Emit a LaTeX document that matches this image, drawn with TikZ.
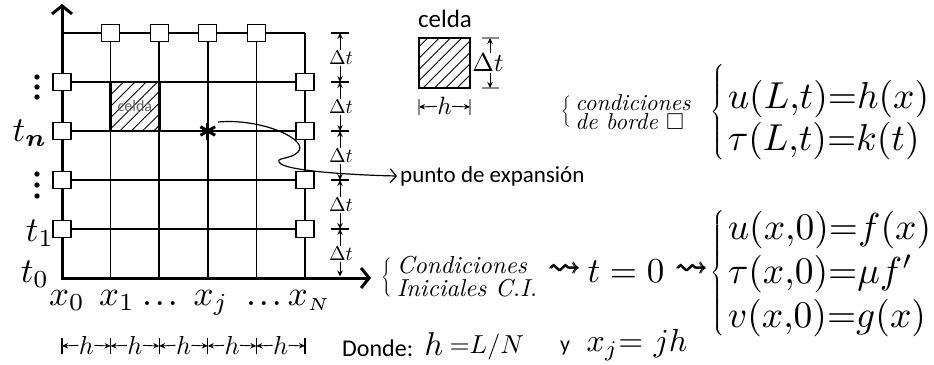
\documentclass[tikz,border=0pt]{standalone}
\usepackage{amsmath}
\usepackage{amssymb}
\usepackage{fontspec}
\newfontfamily\carlito{Carlito}
\usetikzlibrary{arrows.meta,patterns.meta,calc}
\newcommand{\sz}[2]{\fontsize{#1}{#2}\selectfont}
\newcommand{\tallbrace}[1]{$\left\{\vcenter{\hrule height #1pt width 0pt}\right.$}

\begin{document}
\begin{tikzpicture}[x=1pt,y=-1pt,
  grd/.style={line width=1.7pt},
  axis/.style={line width=3pt,-{Straight Barb[length=8pt,width=20pt]}},
  bnd/.style={draw,fill=white,line width=1.1pt,minimum width=18pt,minimum height=17pt,inner sep=0pt},
  hatch/.style={pattern={Lines[angle=45,distance=8pt,line width=0.9pt]}},
  dim/.style={line width=0.9pt,-{Stealth[length=6pt,width=5.5pt]}},
  tick/.style={line width=1.1pt},
  lbl/.style={inner sep=0pt},
  m/.style={inner sep=0pt,scale=#1},
  conn/.style={line width=1.2pt,-{Straight Barb[length=6pt,width=14pt]}}]

\useasboundingbox (0,0) rectangle (934,364);
\def\hx{48.6}\def\ty{49}

% ================= mesh =================
\foreach \k in {0,...,4} \draw[grd] (62,{33+\ty*\k}) -- (305,{33+\ty*\k});
\foreach \k in {1,...,5} \draw[grd] ({62+\hx*\k},33) -- ({62+\hx*\k},278);
% the shaded cell
\draw[line width=2.6pt,hatch] ({62+\hx},82) rectangle ({62+2*\hx},131);
\node[lbl,text=black!60,font=\carlito\sz{16}{16}] (cl) at ({62+1.5*\hx},106) {celda};
% axes
\draw[axis] (62,279.5) -- (62,4);
\draw[axis] (60.5,278) -- (371,278);
% boundary nodes
\foreach \k in {1,...,4} {
  \node[bnd] (top\k) at ({62+\hx*\k},33) {};
  \node[bnd] (lft\k) at (62,{33+\ty*\k}) {};
  \node[bnd] (rgt\k) at (305,{33+\ty*\k}) {};
}

% ================= axis labels =================
\foreach \y in {77,87,97,174,185,196} \fill (37,\y) circle (2.7);
\node[m=3.5] (tn) at (30,133) {$t_{\boldsymbol{n}}$};
\node[m=3.5] (t1) at (40,233) {$t_1$};
\node[m=3.5] (t0) at (35,274) {$t_0$};
\node[m=3.5,anchor=base] (x0) at (67,305) {$x_0$};
\node[m=3.5,anchor=base] (x1) at (117,305) {$x_1$};
\node[m=2.5,anchor=base] (e1) at (160,305) {$\boldsymbol{\ldots}$};
\node[m=3.5,anchor=base] (xj) at (211,305) {$x_j$};
\node[m=2.5,anchor=base] (e2) at (264,305) {$\boldsymbol{\ldots}$};
\node[m=3.5,anchor=base] (xN) at (309,305) {$x_{\scriptscriptstyle N}$};

% ================= spacing marks =================
\foreach \k in {0,...,4} {
  \draw[tick] (331,{33+\ty*\k}) -- (349,{33+\ty*\k});
  \coordinate (tb\k) at (340,{33+\ty*\k});
}
\coordinate (tb5) at (340,276.5);
\foreach \k [evaluate=\k as \kk using int(\k+1)] in {0,...,4} {
  \node[m=2.0] (dt\k) at (341,{58+\ty*\k}) {$\Delta t$};
  \draw[dim] (340,{58+\ty*\k}) ++(0,-8) -- (tb\k);
  \draw[dim] (340,{58+\ty*\k}) ++(0,8) -- (tb\kk);
}
\foreach \k in {0,...,5} {
  \draw[tick] ({62+\hx*\k},338) -- ({62+\hx*\k},354);
  \coordinate (hb\k) at ({62+\hx*\k},346);
}
\foreach \k [evaluate=\k as \kk using int(\k+1)] in {0,...,4} {
  \node[m=2.6] (h\k) at ({62+\hx*(\k+0.5)},345) {$h$};
  \draw[dim] (h\k) -- (hb\k);
  \draw[dim] (h\k) -- (hb\kk);
}

% ================= cell legend =================
\node[lbl,font=\carlito\sz{25}{25}] (cd) at (445,19) {celda};
\draw[line width=2.8pt,hatch] (419,38) rectangle (470,88);
\draw[tick,black!45] (482,38) -- (499,38);
\draw[tick,black!45] (482,88) -- (499,88);
\coordinate (lt0) at (490,38);
\coordinate (lt1) at (490,88);
\node[m=2.6] (ldt) at (488,63) {$\Delta t$};
\draw[dim] (490,53) -- (lt0);
\draw[dim] (490,73) -- (lt1);
\draw[tick,black!45] (419,99) -- (419,115);
\draw[tick,black!45] (470,99) -- (470,115);
\coordinate (lh0) at (419,107);
\coordinate (lh1) at (470,107);
\node[m=2.5] (lh) at (444.5,106) {$h$};
\draw[dim] (lh) -- (lh0);
\draw[dim] (lh) -- (lh1);

% ================= expansion point =================
\coordinate (sp) at ({62+3*\hx},131);
\foreach \a in {90,30,150} \draw[line width=3pt] ($(sp)+(\a:8.5)$) -- ($(sp)+(\a+180:8.5)$);
\coordinate (sp0) at (218,122);
\node[lbl,anchor=west,font=\carlito\sz{23}{23}] (pe) at (400,176) {punto de expansión};
\draw[conn] (sp0) .. controls (262,118) and (310,140) .. (298,152)
  .. controls (291,160) and (272,157) .. (281,164)
  .. controls (292,171) and (350,175) .. ([xshift=-3pt]pe.west);

% ================= boundary conditions =================
\node[m=1.3] (bb) at (567,112) {\tallbrace{24.6}};
\node[m=2.3,anchor=west,align=left,font=\sz{10}{7}\itshape] (cb) at ([xshift=2pt]bb.east)
  {condiciones\\de borde $\square$};
\node[m=1.6,anchor=east] (bbr) at (727,112) {\tallbrace{60.6}};
\node[m=3.75,anchor=west,align=left,font=\sz{10}{9}] (ecb) at ([yshift=-8pt]bbr.east)
  {$u(L{,}t){=}h(x)$\\$\tau(L{,}t){=}k(t)$};

% ================= initial conditions =================
\node[m=1.3] (ib) at (388,277) {\tallbrace{30.8}};
\node[m=2.45,anchor=west,align=left,font=\sz{10}{9.4}\itshape] (ci) at ([xshift=2pt]ib.east)
  {Condiciones\\Iniciales C.I.};
\node[m=3.2] (sq1) at (565,270) {$\pmb{\rightsquigarrow}$};
\node[m=3.5] (tz) at (626,271) {$t=0$};
\node[m=3.2] (sq2) at (692,270) {$\pmb{\rightsquigarrow}$};
\node[m=1.6,anchor=east] (ibr) at (727,273) {\tallbrace{80}};
\node[m=3.75,anchor=west,align=left,font=\sz{10}{11.7}] (eci) at ([yshift=-1pt]ibr.east)
  {$u(x{,}0){=}f(x)$\\$\tau(x{,}0){=}\mu f'$\\$v(x{,}0){=}g(x)$};

% ================= definitions =================
\node[lbl,anchor=west,font=\carlito\sz{24}{24}] (dn) at (342,348) {Donde:};
\node[m=3.3] (dh) at (434,344) {$h$};
\node[m=2.6,anchor=west] (dl) at (449,347) {${=}L/N$};
\node[lbl,font=\carlito\sz{22}{22}] (dy) at (565,348) {y};
\node[m=3.2,anchor=west] (dx) at (586,345) {$x_j{=}\ jh$};
\end{tikzpicture}
\end{document}
